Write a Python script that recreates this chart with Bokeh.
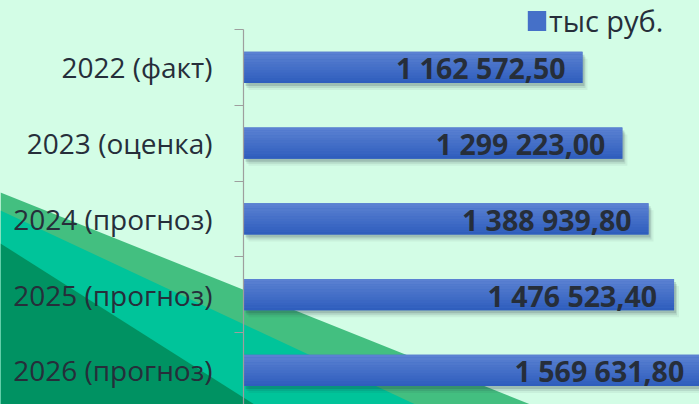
import numpy as np
from bokeh.plotting import figure
from bokeh.models import (Range1d, FixedTicker, ColumnDataSource, PolyAnnotation,
                          Legend, LegendItem)
from bokeh.embed import file_html
from bokeh.resources import INLINE
from bokeh.core.properties import value

# ---- data ----
categories = ["2022 (факт)", "2023 (оценка)", "2024 (прогноз)", "2025 (прогноз)", "2026 (прогноз)"]
values = [1162572.50, 1299223.00, 1388939.80, 1476523.40, 1569631.80]
value_labels = ["1 162 572,50", "1 299 223,00", "1 388 939,80", "1 476 523,40", "1 569 631,80"]
series_name = "тыс руб."

# ---- layout / style ----
BG = "#d3fde6"
TEXT = "#262e3a"
W, H = 699, 404
AXIS_X, AXIS_TOP = 243, 29          # canvas position of the value axis origin / first category boundary
PX_PER_UNIT = 2.916e-4
CAT_PX = 75.75

n = len(categories)
ypos = np.arange(n) + 0.5

x_range = Range1d(-AXIS_X / PX_PER_UNIT, (W - AXIS_X) / PX_PER_UNIT)
y_range = Range1d((H - AXIS_TOP) / CAT_PX, -AXIS_TOP / CAT_PX)

p = figure(width=W, height=H, output_backend="svg", toolbar_location=None,
           x_range=x_range, y_range=y_range, x_axis_location=None,
           min_border_left=0, min_border_top=0, min_border_right=0, min_border_bottom=0,
           background_fill_color=BG, border_fill_color=BG, outline_line_color=None)
p.grid.visible = False

# decorative background bands (slide design)
bands = [
    ("#43bf80", [0, 530, 0], [192, 404, 404]),
    ("#00c49a", [0, 415, 0], [210, 404, 404]),
    ("#009262", [0, 254, 0], [243, 404, 404]),
]
for col, bx, by in bands:
    p.add_layout(PolyAnnotation(xs=bx, ys=by, xs_units="canvas", ys_units="canvas",
                                fill_color=col, fill_alpha=1.0, line_color=None,
                                level="underlay"))

# category axis, fixed at value 0
yaxis = p.yaxis[0]
yaxis.fixed_location = 0
yaxis.bounds = (0, n)
yaxis.ticker = FixedTicker(ticks=[float(v) for v in ypos], minor_ticks=list(range(n + 1)))
yaxis.major_label_overrides = {float(v): c for v, c in zip(ypos, categories)}
yaxis.major_label_text_font = "Open Sans"
yaxis.major_label_text_font_size = "28px"
yaxis.major_label_text_color = TEXT
yaxis.axis_line_color = "#9e9e9e"
yaxis.axis_line_width = 1.2
yaxis.major_tick_out = 0
yaxis.major_tick_in = 0
yaxis.minor_tick_out = 9
yaxis.minor_tick_in = 0
yaxis.minor_tick_line_color = "#9e9e9e"
yaxis.minor_tick_line_width = 1.2
yaxis.major_label_standoff = 22

# bars: shadow layers
bar_h = 0.41
vals = np.array(values)
for dx, dy, a in [(2, 3, 0.16), (3, 5, 0.10), (5, 7, 0.06)]:
    p.hbar(y=ypos + dy / CAT_PX, left=dx / PX_PER_UNIT, right=vals + dx / PX_PER_UNIT,
           height=bar_h, fill_color="#1a2a3a", fill_alpha=a, line_color=None)

# bars: solid base + vertical gradient slices
top_rgb = np.array([0x5d, 0x83, 0xd3])
bot_rgb = np.array([0x2d, 0x5c, 0xbc])
mid_col = "#%02x%02x%02x" % tuple(int(round(v)) for v in (top_rgb + bot_rgb) / 2)
base_r = p.hbar(y=ypos, left=0, right=vals, height=bar_h, fill_color=mid_col, line_color=None)
n_sl = 12
for k in range(n_sl):
    t = (k + 0.5) / n_sl
    c = top_rgb + (bot_rgb - top_rgb) * t
    col = "#%02x%02x%02x" % tuple(int(round(v)) for v in c)
    ys = ypos - bar_h / 2 + (k + 0.5) * bar_h / n_sl
    p.hbar(y=ys, left=0, right=vals, height=bar_h / n_sl,
           fill_color=col, line_color=None)

# value labels
src = ColumnDataSource(dict(x=values, y=list(ypos), t=value_labels))
p.text(x="x", y="y", text="t", source=src, text_align="right", text_baseline="middle",
       x_offset=-17, y_offset=1, text_font=value("Open Sans"), text_font_style="bold",
       text_font_size="28.5px", text_color=TEXT)

# legend
legend = Legend(items=[LegendItem(label=series_name, renderers=[base_r])],
                location=(525, 364), padding=0, margin=0, spacing=0,
                glyph_width=23, glyph_height=25, label_standoff=1,
                label_text_font="Open Sans", label_text_font_size="29px",
                label_text_color=TEXT, background_fill_alpha=0, border_line_alpha=0)
p.add_layout(legend)

html = file_html(p, INLINE, title="chart")
html = html.replace("</head>", "<style>html,body{margin:0;padding:0;background:%s;overflow:hidden;}</style></head>" % BG, 1)
open("out.html", "w").write(html)
